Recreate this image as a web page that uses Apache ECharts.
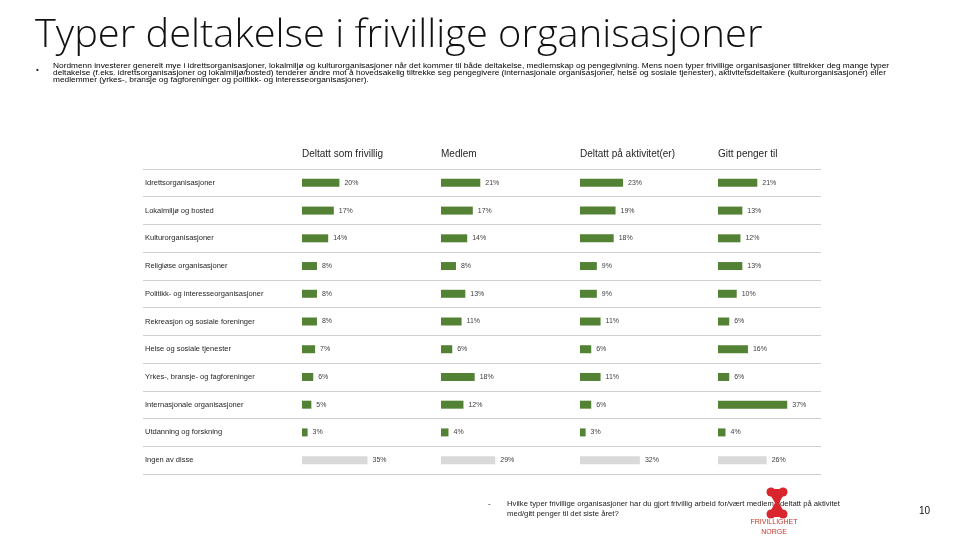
<!DOCTYPE html>
<html><head><meta charset="utf-8">
<script src="https://cdn.jsdelivr.net/npm/echarts@6/dist/echarts.min.js"></script>
<style>html,body{margin:0;padding:0;background:#fff}#c{width:960px;height:540px}</style>
</head><body><div id="c"></div>
<script>
const categories = ['Idrettsorganisasjoner','Lokalmiljø og bosted','Kulturorganisasjoner','Religiøse organisasjoner','Politikk- og interesseorganisasjoner','Rekreasjon og sosiale foreninger','Helse og sosiale tjenester','Yrkes-, bransje- og fagforeninger','Internasjonale organisasjoner','Utdanning og forskning','Ingen av disse'];
const panelTitles = ['Deltatt som frivillig','Medlem','Deltatt på aktivitet(er)','Gitt penger til'];
const frivillig = [20,17,14,8,8,8,7,6,5,3,35];
const medlem = [21,17,14,8,13,11,6,18,12,4,29];
const aktivitet = [23,19,18,9,9,11,6,11,6,3,32];
const penger = [21,13,12,13,10,6,16,6,37,4,26];
const seriesData = [frivillig, medlem, aktivitet, penger];

const chart = echarts.init(document.getElementById('c'));
const lefts = [302, 441, 580, 718];
const gTop = 169, gHeight = 305;
const grids = [], xAxes = [], yAxes = [], series = [];
lefts.forEach((l, i) => {
  grids.push({left: l, top: gTop, width: 131, height: gHeight});
  xAxes.push({gridIndex: i, type: 'value', min: 0, max: 70, show: false});
  yAxes.push({gridIndex: i, type: 'category', data: categories, inverse: true, show: false});
  series.push({
    type: 'bar', xAxisIndex: i, yAxisIndex: i, barWidth: 8,
    data: seriesData[i].map((v, k) => ({value: v, itemStyle: {color: k === categories.length - 1 ? '#d9d9d9' : '#548235'}})),
    label: {show: true, position: 'right', distance: 5, formatter: '{c}%', fontSize: 7, color: '#404040', fontFamily: 'Liberation Sans'},
    silent: true
  });
});
// background grid for row lines and category labels
grids.push({left: 143, top: gTop, width: 678, height: gHeight});
xAxes.push({gridIndex: 4, type: 'value', show: false, min: 0, max: 1});
yAxes.push({gridIndex: 4, type: 'category', data: categories, inverse: true,
  axisLine: {show: false}, axisTick: {show: false},
  splitLine: {show: true, lineStyle: {color: '#d0d0d0', width: 1}},
  axisLabel: {inside: true, margin: 2, fontSize: 7.5, color: '#262626', fontFamily: 'Liberation Sans'}
});

const graphic = [
  {type: 'text', x: 35, y: 17, scaleX: 1.047, style: {text: 'Typer deltakelse i frivillige organisasjoner', font: '300 38px "Open Sans"', fill: '#111'}},
  {type: 'text', x: 36, y: 66, style: {text: '•', font: '8px "Liberation Sans"', fill: '#111'}},
  {type: 'text', x: 53, y: 62.5, scaleX: 1.28, style: {
    text: 'Nordmenn investerer generelt mye i idrettsorganisasjoner, lokalmiljø og kulturorganisasjoner når det kommer til både deltakelse, medlemskap og pengegivning. Mens noen typer frivillige organisasjoner tiltrekker deg mange typer\ndeltakelse (f.eks. idrettsorganisasjoner og lokalmiljø/bosted) tenderer andre mot å hovedsakelig tiltrekke seg pengegivere (internasjonale organisasjoner, helse og sosiale tjenester), aktivitetsdeltakere (kulturorganisasjoner) eller\nmedlemmer (yrkes-, bransje og fagforeninger og politikk- og interesseorganisasjoner).',
    font: '6.5px "Liberation Sans"', lineHeight: 7, fill: '#000'}},
  {type: 'text', x: 488, y: 500, style: {text: '-', font: '8px "Liberation Sans"', fill: '#222'}},
  {type: 'text', x: 507, y: 499, scaleX: 1.1, style: {text: 'Hvilke typer frivillige organisasjoner har du gjort frivillig arbeid for/vært medlem i/deltatt på aktivitet\nmed/gitt penger til det siste året?', font: '7px "Liberation Sans"', lineHeight: 10, fill: '#222'}},
  {type: 'polygon', shape: {points: [[767,489],[787,489],[779,503],[787,517],[767,517],[775,503]]}, style: {fill: '#d9262e'}},
  {type: 'circle', shape: {cx: 771, cy: 492, r: 4.5}, style: {fill: '#d9262e'}},
  {type: 'circle', shape: {cx: 783, cy: 492, r: 4.5}, style: {fill: '#d9262e'}},
  {type: 'circle', shape: {cx: 771, cy: 514, r: 4.5}, style: {fill: '#d9262e'}},
  {type: 'circle', shape: {cx: 783, cy: 514, r: 4.5}, style: {fill: '#d9262e'}},
  {type: 'text', x: 774, y: 517, style: {text: 'FRIVILLIGHET\nNORGE', font: '7px "Liberation Sans"', lineHeight: 10, fill: '#c0392b', align: 'center'}},
  {type: 'text', x: 919, y: 506, style: {text: '10', font: '10px "Liberation Sans"', fill: '#111'}}
];
panelTitles.forEach((t, i) => {
  graphic.push({type: 'text', x: lefts[i], y: 149, style: {text: t, font: '10px "Liberation Sans"', fill: '#262626'}});
});

chart.setOption({
  animation: false,
  grid: grids, xAxis: xAxes, yAxis: yAxes, series: series, graphic: graphic
});
</script></body></html>
